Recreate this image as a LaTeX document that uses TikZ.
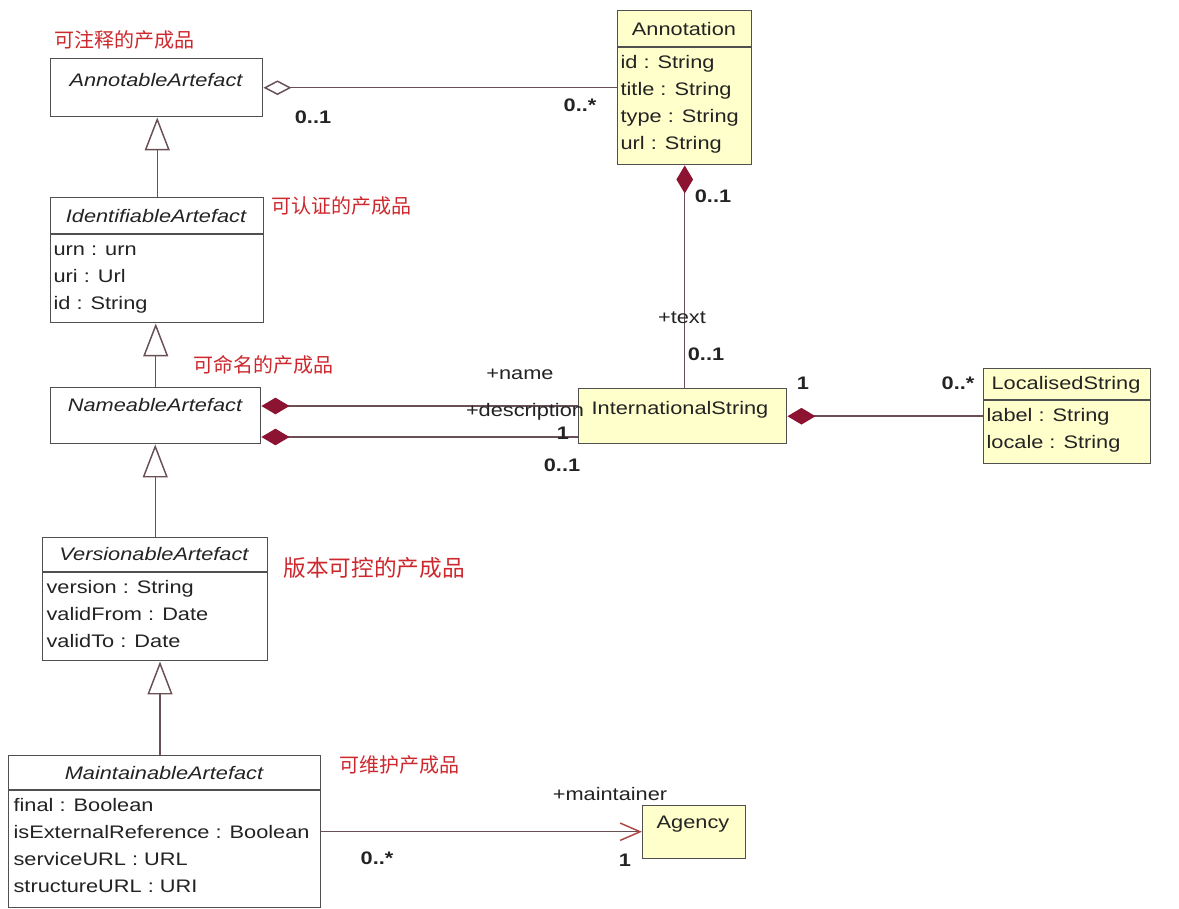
\documentclass[tikz,border=0pt]{standalone}
\usepackage{fontspec}
\usetikzlibrary{arrows.meta}
\newfontfamily\umlfont[FakeStretch=1.2]{Liberation Sans}
\newfontfamily\cjkfont{Noto Sans CJK SC}
\definecolor{boxline}{RGB}{80,80,80}
\definecolor{classfill}{RGB}{255,255,204}
\definecolor{assocline}{RGB}{105,80,85}
\definecolor{compred}{RGB}{140,20,50}
\definecolor{navred}{RGB}{175,70,70}
\definecolor{notered}{RGB}{205,40,45}
\definecolor{umltxt}{RGB}{35,35,35}
\tikzset{
  umlbox/.style={draw=boxline, line width=1.1pt, anchor=north west, inner sep=0pt},
  absclass/.style={umlbox, fill=white},
  conclass/.style={umlbox, fill=classfill},
  umlfnt/.style={font=\umlfont\fontsize{13.6pt}{20.25pt}\selectfont, text=umltxt},
  absname/.style={umlfnt, font=\umlfont\fontsize{13.6pt}{20.25pt}\selectfont\itshape},
  attrs/.style={umlfnt, anchor=north west, align=left, inner xsep=1pt, inner ysep=1.8pt},
  mult/.style={umlfnt, font=\umlfont\fontsize{13.6pt}{20.25pt}\selectfont\bfseries},
  role/.style={umlfnt},
  cnnote/.style={font=\cjkfont\fontsize{15pt}{18pt}\selectfont, text=notered},
  assoc/.style={draw=assocline, line width=1.1pt},
  inherit/.style={assoc, -{Triangle[open, length=24.75pt, width=18.75pt]}},
  aggr/.style={assoc, {Diamond[open, length=21pt, width=11pt]}-},
  compo/.style={assoc, {Diamond[length=21pt, width=12.5pt, color=compred]}-},
  navig/.style={assoc, -{Straight Barb[length=15pt, width=13pt, color=navred]}},
}

\begin{document}
\begin{tikzpicture}[x=0.75pt,y=0.75pt,yscale=-1,xscale=1]
\useasboundingbox (0,0) rectangle (1179,909);

%Shape: AnnotableArtefact
\node (AnA) [absclass, minimum width=159pt, minimum height=43.5pt] at (50,58) {};
%Shape: Annotation
\node (Ann) [conclass, minimum width=100.5pt, minimum height=115.5pt] at (617,10) {};
\draw [boxline, line width=1.1pt] (Ann.west |- 0,47) -- (Ann.east |- 0,47);
%Shape: IdentifiableArtefact
\node (IdA) [absclass, minimum width=159.75pt, minimum height=93.75pt] at (50,197) {};
\draw [boxline, line width=1.1pt] (IdA.west |- 0,234) -- (IdA.east |- 0,234);
%Shape: NameableArtefact
\node (NaA) [absclass, minimum width=157.5pt, minimum height=42pt] at (50,387) {};
%Shape: InternationalString
\node (IS) [conclass, minimum width=156pt, minimum height=41.25pt] at (578,388) {};
%Shape: LocalisedString
\node (LS) [conclass, minimum width=125.25pt, minimum height=71.25pt] at (983,368) {};
\draw [boxline, line width=1.1pt] (LS.west |- 0,400) -- (LS.east |- 0,400);
%Shape: VersionableArtefact
\node (VA) [absclass, minimum width=168.75pt, minimum height=92.25pt] at (42,537) {};
\draw [boxline, line width=1.1pt] (VA.west |- 0,572) -- (VA.east |- 0,572);
%Shape: MaintainableArtefact
\node (MA) [absclass, minimum width=234pt, minimum height=114pt] at (8,755) {};
\draw [boxline, line width=1.1pt] (MA.west |- 0,790) -- (MA.east |- 0,790);
%Shape: Agency
\node (Ag) [conclass, minimum width=77.25pt, minimum height=39.75pt] at (642,805) {};

%Straight Lines: generalisations
\draw [inherit] (IdA.north) -- (IdA.north |- AnA.south);
\draw [inherit] (NaA.north) -- (NaA.north |- IdA.south);
\draw [inherit] (VA.north) -- (VA.north |- NaA.south);
\draw [inherit] (MA.north -| 160,0) -- (VA.south -| 160,0);
%Straight Lines: associations
\draw [aggr] (AnA.east) -- (Ann.west);
\draw [compo] (Ann.south) -- (Ann.south |- IS.north);
\draw [compo] (NaA.east |- 0,406) -- (IS.west |- 0,406);
\draw [compo] (NaA.east |- 0,437) -- (IS.west |- 0,437);
\draw [compo] (IS.east) -- (LS.west);
\draw [navig] (MA.east) -- (MA.east -| Ag.west);

% Text Node
\draw (156,80) node (tAnA) [absname] {AnnotableArtefact};
\draw (684,29) node (tAnn) [umlfnt] {Annotation};
\draw (619,47) node (aAnn) [attrs] {\strut id : String\\title : String\\type : String\\url : String};
\draw (156,216) node (tIdA) [absname] {IdentifiableArtefact};
\draw (52,234) node (aIdA) [attrs] {\strut urn : urn\\uri : Url\\id : String};
\draw (155,405) node (tNaA) [absname] {NameableArtefact};
\draw (680,410) node (tIS) [umlfnt] {InternationalString};
\draw (1066,385) node (tLS) [umlfnt] {LocalisedString};
\draw (985,400) node (aLS) [attrs] {\strut label : String\\locale : String};
\draw (154,554) node (tVA) [absname] {VersionableArtefact};
\draw (45,572) node (aVA) [attrs] {\strut version : String\\validFrom : Date\\validTo : Date};
\draw (164,773) node (tMA) [absname] {MaintainableArtefact};
\draw (12,790) node (aMA) [attrs] {\strut final : Boolean\\isExternalReference : Boolean\\serviceURL : URL\\structureURL : URI};
\draw (693,824) node (tAg) [umlfnt] {Agency};

% Text Node
\draw (124,40) node (nAnA) [cnnote] {可注释的产成品};
\draw (341,206) node (nIdA) [cnnote] {可认证的产成品};
\draw (263,365) node (nNaA) [cnnote] {可命名的产成品};
\draw (374,568) node (nVA) [cnnote, font=\cjkfont\fontsize{17pt}{20pt}\selectfont] {版本可控的产成品};
\draw (399,765) node (nMA) [cnnote] {可维护产成品};

% Text Node
\draw (313,117) node (m1) [mult] {0..1};
\draw (580,105) node (m2) [mult] {0..*};
\draw (713,196) node (m3) [mult] {0..1};
\draw (682,318) node (r1) [role] {+text};
\draw (706,354) node (m4) [mult] {0..1};
\draw (520,374) node (r2) [role] {+name};
\draw (525,412) node (r3) [role] {+description};
\draw (563,433) node (m5) [mult] {1};
\draw (562,465) node (m6) [mult] {0..1};
\draw (803,383) node (m7) [mult] {1};
\draw (958,383) node (m8) [mult] {0..*};
\draw (610,794) node (r4) [role] {+maintainer};
\draw (377,858) node (m9) [mult] {0..*};
\draw (625,860) node (m10) [mult] {1};

\end{tikzpicture}
\end{document}
